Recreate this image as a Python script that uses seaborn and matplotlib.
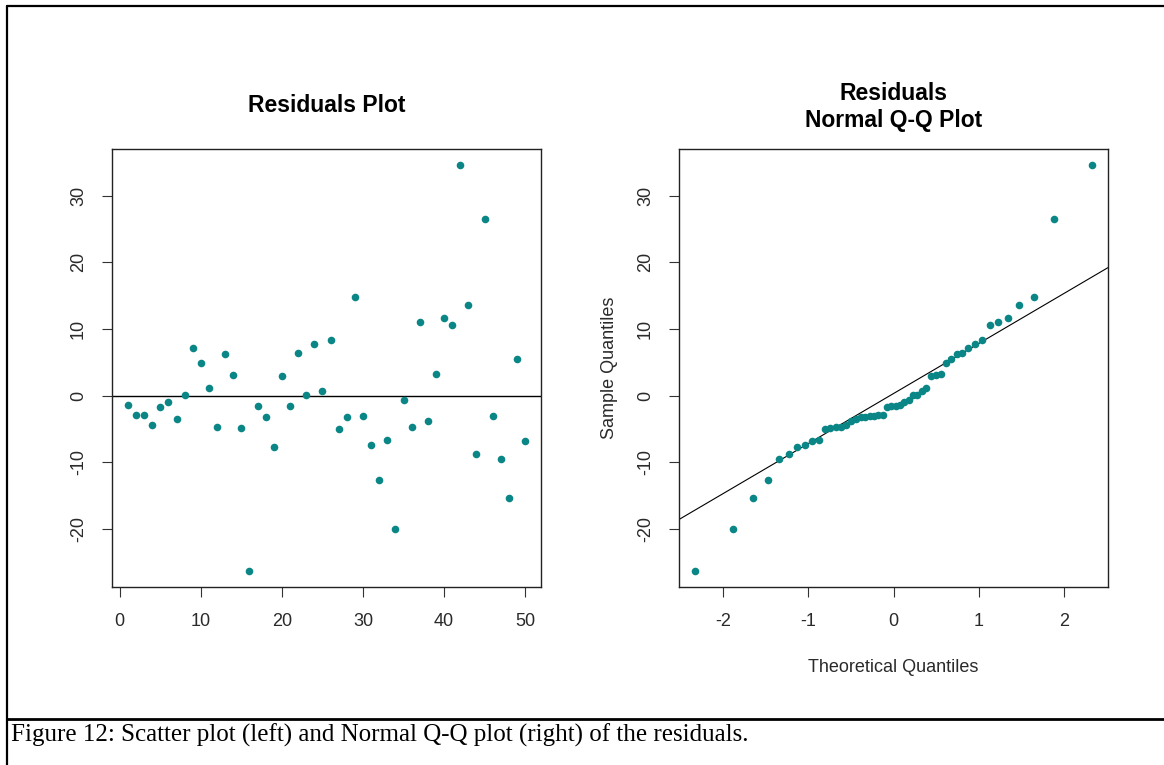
import matplotlib
matplotlib.use("Agg")
import matplotlib.pyplot as plt
import seaborn as sns
import numpy as np
import pandas as pd
from statistics import NormalDist
from matplotlib.lines import Line2D

# ---------------- data ----------------
obs_index = list(range(1, 51))
residuals = [-1.45, -2.85, -2.85, -4.4, -1.75, -0.9, -3.5, 0.15, 7.15, 4.9,
             1.2, -4.75, 6.3, 3.1, -4.9, -26.25, -1.6, -3.15, -7.7, 2.9,
             -1.6, 6.4, 0.1, 7.7, 0.7, 8.35, -5.05, -3.15, 14.8, -3.0,
             -7.35, -12.6, -6.65, -19.95, -0.7, -4.75, 11.0, -3.85, 3.3, 11.65,
             10.65, 34.55, 13.6, -8.75, 26.55, -3.0, -9.45, -15.4, 5.55, -6.85]
left_xticks = [0, 10, 20, 30, 40, 50]
right_xticks = [-2, -1, 0, 1, 2]
yticks = [-20, -10, 0, 10, 20, 30]
left_title = "Residuals Plot"
right_title_1 = "Residuals"
right_title_2 = "Normal Q-Q Plot"
right_xlabel = "Theoretical Quantiles"
right_ylabel = "Sample Quantiles"
caption = "Figure 12: Scatter plot (left) and Normal Q-Q plot (right) of the residuals."

# Q-Q computation (as R's qqnorm / qqline)
n = len(residuals)
sample_q = np.sort(np.array(residuals))
nd = NormalDist()
theo_q = np.array([nd.inv_cdf((i - 0.5) / n) for i in range(1, n + 1)])
q1, q3 = np.percentile(sample_q, [25, 75])
x1, x2 = nd.inv_cdf(0.25), nd.inv_cdf(0.75)
slope = (q3 - q1) / (x2 - x1)
intercept = q1 - slope * x1

df_left = pd.DataFrame({"Index": obs_index, "Residual": residuals})
df_right = pd.DataFrame({"Theoretical": theo_q, "Sample": sample_q})

# ---------------- style ----------------
sns.set_style("white")
plt.rcParams["font.family"] = ["Liberation Sans", "DejaVu Sans"]
plt.rcParams["axes.unicode_minus"] = False
POINT = "#0b8686"
W, H = 1164, 765

fig = plt.figure(figsize=(W / 100, H / 100), dpi=100)
fig.patch.set_facecolor("white")

def fx(px):
    return px / W

def fy(py):
    return 1 - py / H

ax1 = fig.add_axes([fx(112), fy(587), fx(541) - fx(112), fy(149) - fy(587)])
ax2 = fig.add_axes([fx(679), fy(587), fx(1108) - fx(679), fy(149) - fy(587)])

def rlim(vals):
    lo, hi = float(np.min(vals)), float(np.max(vals))
    r = hi - lo
    return lo - 0.04 * r, hi + 0.04 * r

sns.scatterplot(data=df_left, x="Index", y="Residual", ax=ax1, color=POINT,
                s=30, linewidth=0, legend=False, zorder=3)
ax1.axhline(0, color="black", lw=1.0, zorder=2)
ax1.set_xlim(*rlim(obs_index))
ax1.set_ylim(*rlim(residuals))
ax1.set_xticks(left_xticks)

sns.scatterplot(data=df_right, x="Theoretical", y="Sample", ax=ax2, color=POINT,
                s=30, linewidth=0, legend=False, zorder=3)
ax2.axline((0, intercept), slope=slope, color="black", lw=0.8, zorder=2)
ax2.set_xlim(*rlim(theo_q))
ax2.set_ylim(*rlim(sample_q))
ax2.set_xticks(right_xticks)

for ax in (ax1, ax2):
    ax.set_yticks(yticks)
    ax.set_xlabel("")
    ax.set_ylabel("")
    for s in ax.spines.values():
        s.set_color("#222222")
        s.set_linewidth(1.0)
    ax.tick_params(axis="both", which="both", direction="out", length=7,
                   width=0.8, color="#333333", labelsize=13, labelcolor="#2a2a2a",
                   bottom=True, left=True)
    ax.tick_params(axis="x", pad=12)
    ax.tick_params(axis="y", pad=11, labelrotation=90)
    for lab in ax.get_yticklabels():
        lab.set_verticalalignment("center")

ax2.set_xlabel(right_xlabel, fontsize=13, color="#2a2a2a")
ax2.xaxis.set_label_coords(0.5, (587 - 668) / 438)
ax2.xaxis.label.set_verticalalignment("center")
ax2.set_ylabel(right_ylabel, fontsize=13, color="#2a2a2a")
ax2.yaxis.set_label_coords((609 - 679) / 429, 0.5)
ax2.yaxis.label.set_verticalalignment("center")

ax1.text(0.5, (587 - 105) / 438, left_title, transform=ax1.transAxes,
         ha="center", va="center", fontsize=16.5, fontweight="bold", color="black")
ax2.text(0.5, (587 - 93) / 438, right_title_1, transform=ax2.transAxes,
         ha="center", va="center", fontsize=16.5, fontweight="bold", color="black")
ax2.text(0.5, (587 - 121) / 438, right_title_2, transform=ax2.transAxes,
         ha="center", va="center", fontsize=16.5, fontweight="bold", color="black")

# outer frame and caption separator
fig.add_artist(Line2D([fx(7), fx(7)], [fy(6), 0], transform=fig.transFigure,
                      color="black", lw=1.6))
fig.add_artist(Line2D([fx(7), 1], [fy(6), fy(6)], transform=fig.transFigure,
                      color="black", lw=1.6))
fig.add_artist(Line2D([fx(7), 1], [fy(719), fy(719)], transform=fig.transFigure,
                      color="black", lw=2.0))
fig.text(fx(11), fy(742), caption, fontsize=18, family=["Liberation Serif"],
         ha="left", va="baseline", color="black")

fig.savefig("out.png", dpi=100)
